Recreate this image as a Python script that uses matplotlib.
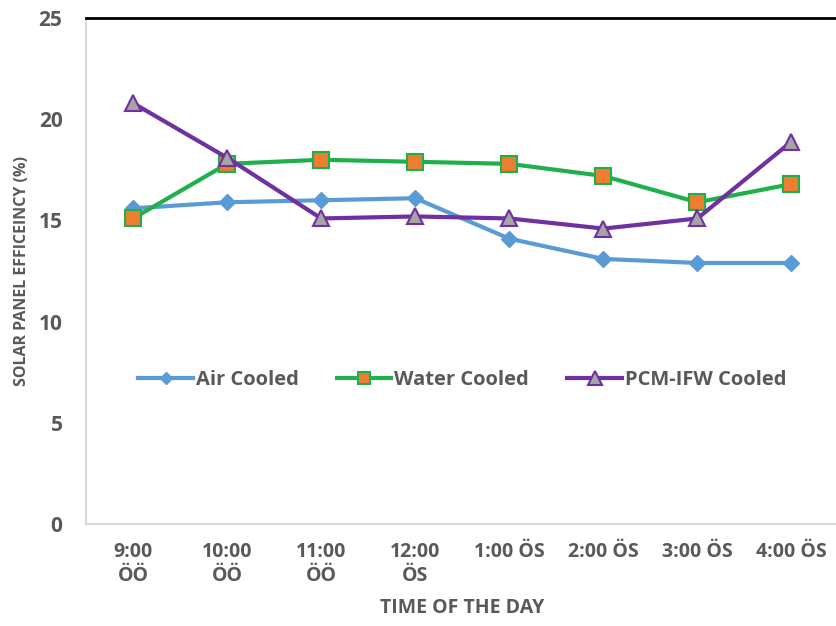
import matplotlib.pyplot as plt

plt.rcParams['font.family'] = ['Open Sans', 'DejaVu Sans']

times = ['9:00\nÖÖ', '10:00\nÖÖ', '11:00\nÖÖ', '12:00\nÖS',
         '1:00 ÖS', '2:00 ÖS', '3:00 ÖS', '4:00 ÖS']
air = [15.6, 15.9, 16.0, 16.1, 14.1, 13.1, 12.9, 12.9]
water = [15.1, 17.8, 18.0, 17.9, 17.8, 17.2, 15.9, 16.8]
pcm = [20.8, 18.1, 15.1, 15.2, 15.1, 14.6, 15.1, 18.9]

grey = '#595959'
x = range(len(times))

fig = plt.figure(figsize=(8.36, 6.26), dpi=100)
ax = fig.add_axes([0.103, 0.163, 0.9, 0.808])

ax.plot(x, air, color='#5b9bd5', lw=3, marker='D', ms=8,
        mfc='#5b9bd5', mec='#5b9bd5', label='Air Cooled')
ax.plot(x, water, color='#1fb04b', lw=3, marker='s', ms=11,
        mfc='#ed7d31', mec='#1fb04b', mew=1.5, label='Water Cooled')
ax.plot(x, pcm, color='#7030a0', lw=3, marker='^', ms=12,
        mfc='#a5a5a5', mec='#7030a0', mew=1.5, label='PCM-IFW Cooled')

ax.set_xlim(-0.5, 7.5)
ax.set_ylim(0, 25)
ax.set_yticks([0, 5, 10, 15, 20, 25])
ax.set_xticks(list(x))
ax.set_xticklabels(times, fontsize=14, fontweight='bold', color=grey,
                   linespacing=1.25)
ax.tick_params(axis='y', labelsize=15, labelcolor=grey, length=0, pad=17)
ax.tick_params(axis='x', length=0, pad=13)
for lab in ax.get_yticklabels():
    lab.set_fontweight('bold')

ax.spines['top'].set_color('black')
ax.spines['top'].set_linewidth(2)
ax.spines['right'].set_visible(False)
ax.spines['left'].set_color('#d9d9d9')
ax.spines['bottom'].set_color('#d9d9d9')
ax.spines['left'].set_linewidth(1.5)
ax.spines['bottom'].set_linewidth(1.5)

ax.set_ylabel('SOLAR PANEL EFFICEINCY (%)', fontsize=11.5, fontweight='bold',
              color=grey, labelpad=6)
ax.set_xlabel('TIME OF THE DAY', fontsize=14, fontweight='bold',
              color=grey, labelpad=9)

leg = ax.legend(loc='center', bbox_to_anchor=(0.5, 0.285), ncol=3,
                frameon=False, fontsize=14.5, handlelength=2.7,
                columnspacing=1.9, handletextpad=0.15, markerscale=0.8)
for t in leg.get_texts():
    t.set_color(grey)
    t.set_fontweight('bold')

fig.savefig('out.png', dpi=100)
